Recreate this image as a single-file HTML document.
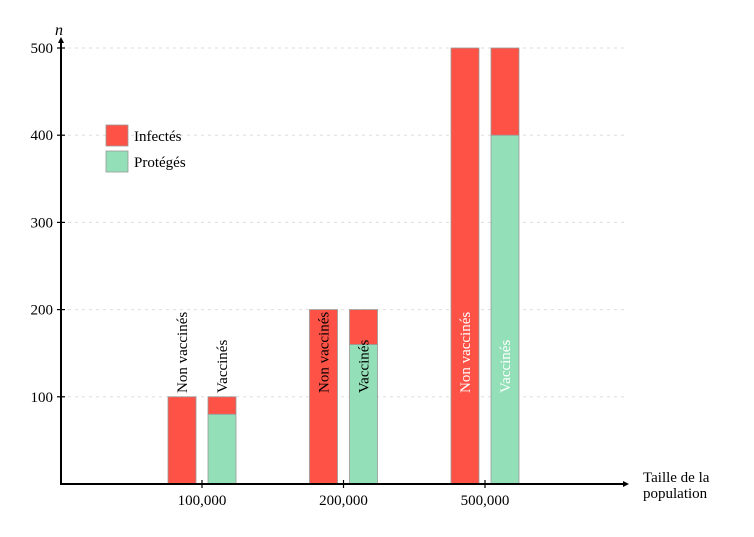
<!DOCTYPE html>
<html><head><meta charset="utf-8"><style>body{margin:0;background:#fff}svg{display:block;font-family:"Liberation Serif",serif}</style></head><body>
<svg id="chart" width="754" height="537" viewBox="0 0 754 537"></svg>
<script>
const categories=["100,000","200,000","500,000"];
const nonVaccInfected=[100,200,500];
const vaccInfected=[20,40,100];
const vaccProtected=[80,160,400];
const yTicks=[100,200,300,400,500];
const NS="http://www.w3.org/2000/svg";
const svg=document.getElementById('chart');
const x0=61,y0=484,yScale=v=>y0-v*(436/500);
const xCat=i=>202+i*141.5;
const bw=28,off=20;
function mk(t,a,p){const e=document.createElementNS(NS,t);for(const k in a)e.setAttribute(k,a[k]);(p||svg).appendChild(e);return e;}
// grid
yTicks.forEach(v=>{const g=mk('line',{x1:x0,x2:628,y1:yScale(v),y2:yScale(v),stroke:'#ddd','stroke-dasharray':'3,4','stroke-width':1});


const tk=mk('line',{x1:x0-4,x2:x0+4,y1:yScale(v),y2:yScale(v),stroke:'#000','stroke-width':1.2});


const t=mk('text',{x:x0-8,y:yScale(v)+5,'text-anchor':'end','font-size':15});t.textContent=v;

});
const red='#ff5247',green='#93dfb8',st='#999';
categories.forEach((c,i)=>{
 const cx=xCat(i),xa=cx-off-bw/2,xb=cx+off-bw/2;
 const r1=mk('rect',{x:xa,y:yScale(nonVaccInfected[i]),width:bw,height:y0-yScale(nonVaccInfected[i]),fill:red,stroke:st,'stroke-width':0.8});
 
 
 const r2=mk('rect',{x:xb,y:yScale(vaccProtected[i]),width:bw,height:y0-yScale(vaccProtected[i]),fill:green,stroke:st,'stroke-width':0.8});
 
 
 const top=vaccProtected[i]+vaccInfected[i];
 const r3=mk('rect',{x:xb,y:yScale(top),width:bw,height:yScale(vaccProtected[i])-yScale(top),fill:red,stroke:st,'stroke-width':0.8});
 
 
 const col=i===2?'#fff':'#000';
 const l1=mk('text',{x:0,y:0,'font-size':15,fill:col,transform:`translate(${xa+bw/2+5},393) rotate(-90)`});l1.textContent='Non vaccinés';
 
 
 const l2=mk('text',{x:0,y:0,'font-size':15,fill:col,transform:`translate(${xb+bw/2+5},393) rotate(-90)`});l2.textContent='Vaccinés';
 
 
 const tk=mk('line',{x1:cx,x2:cx,y1:y0-4,y2:y0+4,stroke:'#000','stroke-width':1.2});
 
 
 const t=mk('text',{x:cx,y:y0+21,'text-anchor':'middle','font-size':15});t.textContent=c;
 
 
});
// axes
const ax=mk('line',{x1:x0,x2:x0,y1:y0+1,y2:40,stroke:'#000','stroke-width':2});


const ah=mk('path',{d:`M${x0-3},43 L${x0},37 L${x0+3},43 Z`,fill:'#000'});


const bx=mk('line',{x1:x0-1,x2:626,y1:y0,y2:y0,stroke:'#000','stroke-width':2});


const bh=mk('path',{d:`M623,${y0-3} L629,${y0} L623,${y0+3} Z`,fill:'#000'});


const yt=mk('text',{x:55,y:35,'font-size':16,'font-style':'italic'});yt.textContent='n';


const xt=mk('text',{x:643,y:482,'font-size':15});xt.textContent='Taille de la';


const xt2=mk('text',{x:643,y:498,'font-size':15});xt2.textContent='population';


// legend
[['Infectés',red,125],['Protégés',green,151]].forEach(([n,c,y])=>{
 const r=mk('rect',{x:106,y:y,width:22,height:21,fill:c,stroke:st,'stroke-width':0.8});
 
 
 const t=mk('text',{x:134,y:y+16,'font-size':15});t.textContent=n;
 
 
});
</script>
</body></html>
